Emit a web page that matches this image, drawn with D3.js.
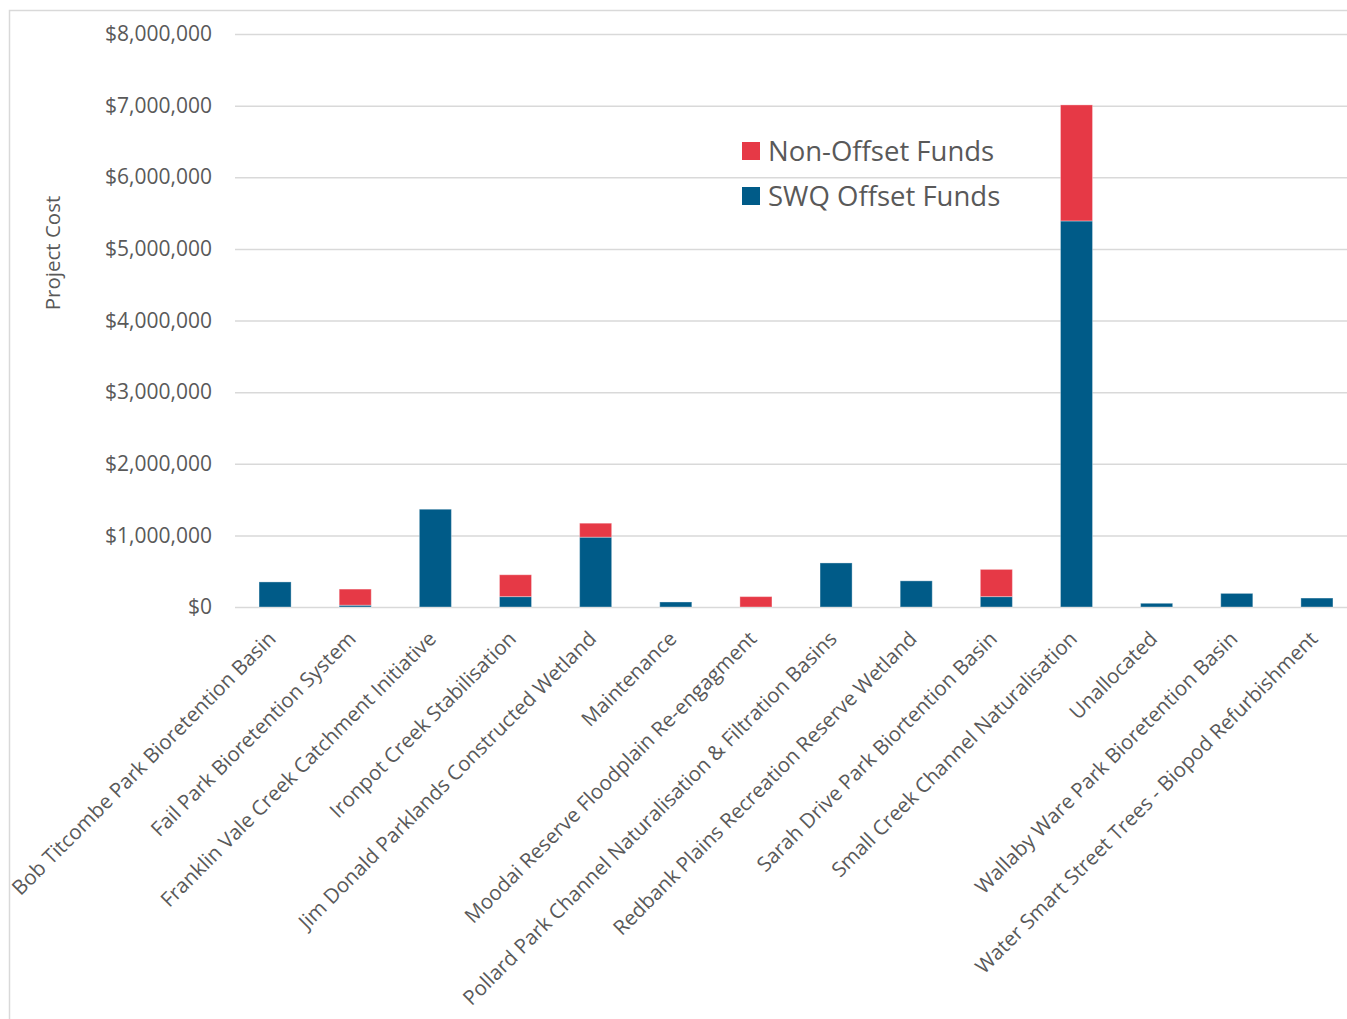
<!DOCTYPE html>
<html>
<head>
<meta charset="utf-8">
<script src="https://cdn.jsdelivr.net/npm/d3@7"></script>
<style>
  body { margin: 0; background: #fff; }
  svg { display: block; }
  svg text { font-family: "Open Sans", "Noto Sans", sans-serif; }
</style>
</head>
<body>
<svg id="chart" width="1347" height="1019"></svg>
<script>
// Project names along the x axis
const categories = [
  "Bob Titcombe Park Bioretention Basin",
  "Fail Park Bioretention System",
  "Franklin Vale Creek Catchment Initiative",
  "Ironpot Creek Stabilisation",
  "Jim Donald Parklands Constructed Wetland",
  "Maintenance",
  "Moodai Reserve Floodplain Re-engagment",
  "Pollard Park Channel Naturalisation & Filtration Basins",
  "Redbank Plains Recreation Reserve Wetland",
  "Sarah Drive Park Biortention Basin",
  "Small Creek Channel Naturalisation",
  "Unallocated",
  "Wallaby Ware Park Bioretention Basin",
  "Water Smart Street Trees - Biopod Refurbishment"
];

// Funding per project (AUD)
const swqOffsetFunds = [350000, 25000, 1365000, 145000, 975000, 70000, 0, 615000, 365000, 145000, 5390000, 52000, 190000, 125000];
const nonOffsetFunds = [0, 225000, 0, 305000, 195000, 0, 145000, 0, 0, 380000, 1620000, 0, 0, 0];

const yTicks = [0, 1000000, 2000000, 3000000, 4000000, 5000000, 6000000, 7000000, 8000000];

const seriesNames = ["SWQ Offset Funds", "Non-Offset Funds"];
const seriesColors = { "SWQ Offset Funds": "#005B88", "Non-Offset Funds": "#E63946" };

const svg = d3.select("#chart");
const W = 1347, H = 1019;
const FONT = '"Open Sans", "Noto Sans", sans-serif';

// outer chart frame
svg.append("rect")
  .attr("x", 9.5).attr("y", 10.5)
  .attr("width", W + 20).attr("height", H + 20)
  .attr("fill", "none").attr("stroke", "#d9d9d9").attr("stroke-width", 1.5);

const plot = { left: 235, right: 1357, top: 34, bottom: 607 };

const x = d3.scaleBand().domain(categories).range([plot.left, plot.right]).paddingInner(0.6).paddingOuter(0.3);
const y = d3.scaleLinear().domain([0, 8000000]).range([plot.bottom, plot.top]);

const table = categories.map((c, i) => ({
  name: c,
  "SWQ Offset Funds": swqOffsetFunds[i],
  "Non-Offset Funds": nonOffsetFunds[i]
}));
const stacked = d3.stack().keys(seriesNames)(table);

// grid lines + y tick labels
const fmt = v => "$" + d3.format(",")(v);
const yAxis = d3.axisLeft(y).tickValues(yTicks).tickFormat(fmt).tickSize(-(W - plot.left)).tickPadding(23);
const ga = svg.append("g").attr("transform", `translate(${plot.left},0)`).call(yAxis)
  .attr("font-family", FONT).attr("font-size", null);
ga.select(".domain").remove();
ga.selectAll(".tick line").attr("stroke", "#d9d9d9").attr("stroke-width", 1.5);
ga.selectAll(".tick text").attr("fill", "#595959").attr("font-size", 21);

// bars
svg.append("g").selectAll("g")
  .data(stacked).join("g")
  .attr("fill", d => seriesColors[d.key])
  .selectAll("rect")
  .data(d => d.filter(s => s[1] - s[0] > 0))
  .join("rect")
  .attr("x", d => x(d.data.name))
  .attr("width", x.bandwidth())
  .attr("y", d => y(d[1]))
  .attr("height", d => y(d[0]) - y(d[1]))
  .attr("stroke", "rgba(255,255,255,0.35)")
  .attr("stroke-width", 1);

// category labels, rotated
const xAxis = d3.axisBottom(x).tickSize(0).tickPadding(0);
const gx = svg.append("g").attr("transform", `translate(0,${plot.bottom})`).call(xAxis)
  .attr("font-family", FONT).attr("font-size", null);
gx.select(".domain").remove();
gx.selectAll(".tick text")
  .attr("fill", "#595959")
  .attr("font-size", 20.5)
  .attr("text-anchor", "end")
  .attr("dy", null)
  .attr("y", 0)
  .attr("transform", "translate(2,33) rotate(-45)");

// y axis title
svg.append("text")
  .attr("transform", `translate(60,253) rotate(-90)`)
  .attr("text-anchor", "middle")
  .attr("fill", "#595959")
  .attr("font-size", 20.5)
  .text("Project Cost");

// legend
const legendItems = ["Non-Offset Funds", "SWQ Offset Funds"];
const lg = svg.append("g").selectAll("g").data(legendItems).join("g")
  .attr("transform", (d, i) => `translate(742,${142 + i * 45})`);
lg.append("rect").attr("width", 18).attr("height", 18).attr("fill", d => seriesColors[d]);
lg.append("text").attr("x", 26).attr("y", 9).attr("dy", "0.36em")
  .attr("fill", "#595959").attr("font-size", 27.5).text(d => d);
</script>
</body>
</html>
